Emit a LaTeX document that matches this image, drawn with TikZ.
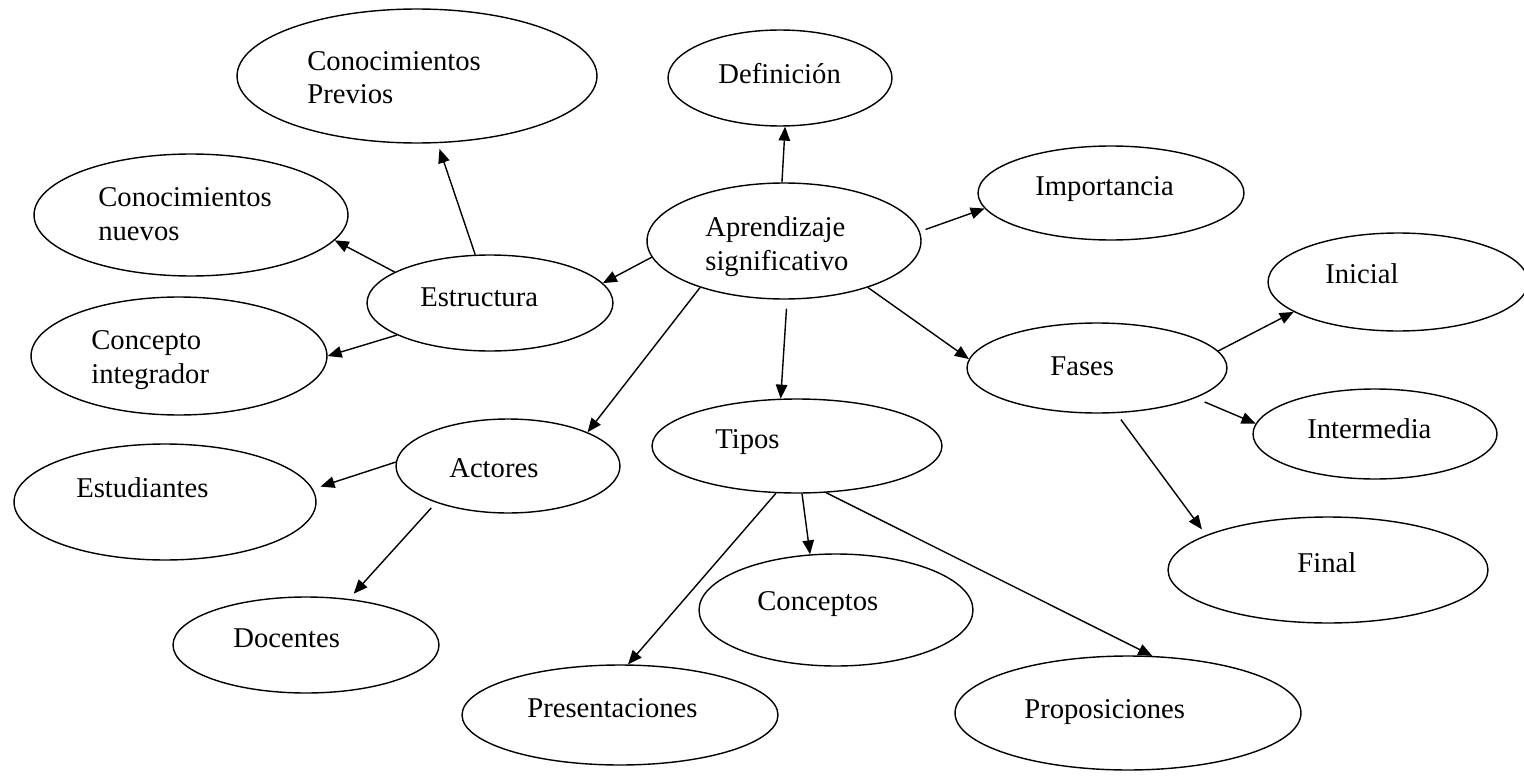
\documentclass[tikz,border=0pt]{standalone}
\usepackage{fontspec}
\setmainfont{Liberation Serif}
\usetikzlibrary{shapes.geometric,arrows.meta}

\begin{document}
\begin{tikzpicture}[x=0.02cm,y=-0.02cm]
 \tikzstyle{globo}=[ellipse, draw, line width=0.8pt, inner sep=0pt]
 \tikzstyle{texto}=[inner sep=0pt, anchor=base west, align=left, font=\fontsize{16.3}{19}\selectfont]
 \tikzstyle{flecha}=[-{Triangle[length=2.8mm,width=2.3mm]}, line width=0.8pt]
 \useasboundingbox (0,0) rectangle (1524,777);
 %
 \node[globo, minimum width=7.2cm, minimum height=2.68cm] (Prev) at (417,76) {};
 \node[globo, minimum width=4.48cm, minimum height=1.92cm] (Def) at (780,78) {};
 \node[globo, minimum width=6.28cm, minimum height=2.44cm] (Nuev) at (191,215) {};
 \node[globo, minimum width=5.32cm, minimum height=1.88cm] (Imp) at (1111,193) {};
 \node[globo, minimum width=5.48cm, minimum height=2.32cm] (Apr) at (784,241) {};
 \node[globo, minimum width=4.92cm, minimum height=1.92cm] (Est) at (490,303) {};
 \node[globo, minimum width=5.92cm, minimum height=2.36cm] (Integ) at (179,356) {};
 \node[globo, minimum width=5.2cm, minimum height=1.96cm] (Ini) at (1398,282) {};
 \node[globo, minimum width=5.2cm, minimum height=1.8cm] (Fas) at (1097,368) {};
 %
 \node[globo, minimum width=4.48cm, minimum height=1.88cm] (Act) at (508,466) {};
 \node[globo, minimum width=5.8cm, minimum height=1.88cm] (Tip) at (797,446) {};
 \node[globo, minimum width=6.04cm, minimum height=2.32cm] (Estu) at (165,502) {};
 \node[globo, minimum width=4.88cm, minimum height=1.8cm] (Inter) at (1375,434) {};
 \node[globo, minimum width=6.4cm, minimum height=2.12cm] (Fin) at (1328,570) {};
 \node[globo, minimum width=5.48cm, minimum height=2.24cm] (Conc) at (836,610) {};
 \node[globo, minimum width=5.32cm, minimum height=1.92cm] (Doc) at (306,645) {};
 \node[globo, minimum width=6.32cm, minimum height=2.0cm] (Pres) at (620,715) {};
 \node[globo, minimum width=6.92cm, minimum height=2.28cm] (Prop) at (1128,713) {};
 %
 \node[texto] (Prev-t) at (307,104) {Conocimientos\\Previos};
 \node[texto] (Def-t) at (718,84) {Definición};
 \node[texto] (Nuev-t) at (98,240) {Conocimientos\\nuevos};
 \node[texto] (Imp-t) at (1035,195) {Importancia};
 \node[texto] (Apr-t) at (705,270) {Aprendizaje\\significativo};
 \node[texto] (Est-t) at (420,306) {Estructura};
 \node[texto] (Integ-t) at (91,383) {Concepto\\integrador};
 \node[texto] (Ini-t) at (1325,283) {Inicial};
 \node[texto] (Fas-t) at (1050,375) {Fases};
 \node[texto] (Act-t) at (449,477) {Actores};
 \node[texto] (Tip-t) at (715,448) {Tipos};
 \node[texto] (Estu-t) at (76,497) {Estudiantes};
 \node[texto] (Inter-t) at (1307,438) {Intermedia};
 \node[texto] (Fin-t) at (1297,572) {Final};
 \node[texto] (Conc-t) at (757,610) {Conceptos};
 \node[texto] (Doc-t) at (233,647) {Docentes};
 \node[texto] (Pres-t) at (527,717) {Presentaciones};
 \node[texto] (Prop-t) at (1024,718) {Proposiciones};
 %%
 \draw[flecha] (Apr.92) -- (Def.276);
 \draw[flecha, shorten <=0.12cm] (Apr.4) -- (Imp.187);
 \draw[flecha] (Apr.187) -- (Est.10);
 \draw[flecha] (Apr.209) -- (Act.23);
 \draw[flecha] (Apr.331) -- (Fas.176);
 \draw[flecha, shorten <=0.18cm] (Apr.273) -- (Tip.109);
 \draw[flecha, shorten >=0.12cm] (Est.107) -- (Prev.287);
 \draw[flecha] (Est.162) -- (Nuev.350);
 \draw[flecha] (Est.199) -- (Integ.0);
 \draw[flecha, shorten >=0.16cm] (Act.178) -- (Estu.5);
 \draw[flecha, shorten <=0.14cm, shorten >=0.14cm] (Act.207) -- (Doc.47);
 \draw[flecha] (Tip.246) -- (Pres.81);
 \draw[flecha] (Tip.276) -- (Conc.115);
 \draw[flecha] (Tip.302) -- (Prop.67);
 \draw[flecha] (Fas.8) -- (Ini.196);
 \draw[flecha, shorten <=0.2cm] (Fas.343) -- (Inter.175);
 \draw[flecha, shorten <=0.16cm, shorten >=0.14cm] (Fas.293) -- (Fin.164);
\end{tikzpicture}
\end{document}
